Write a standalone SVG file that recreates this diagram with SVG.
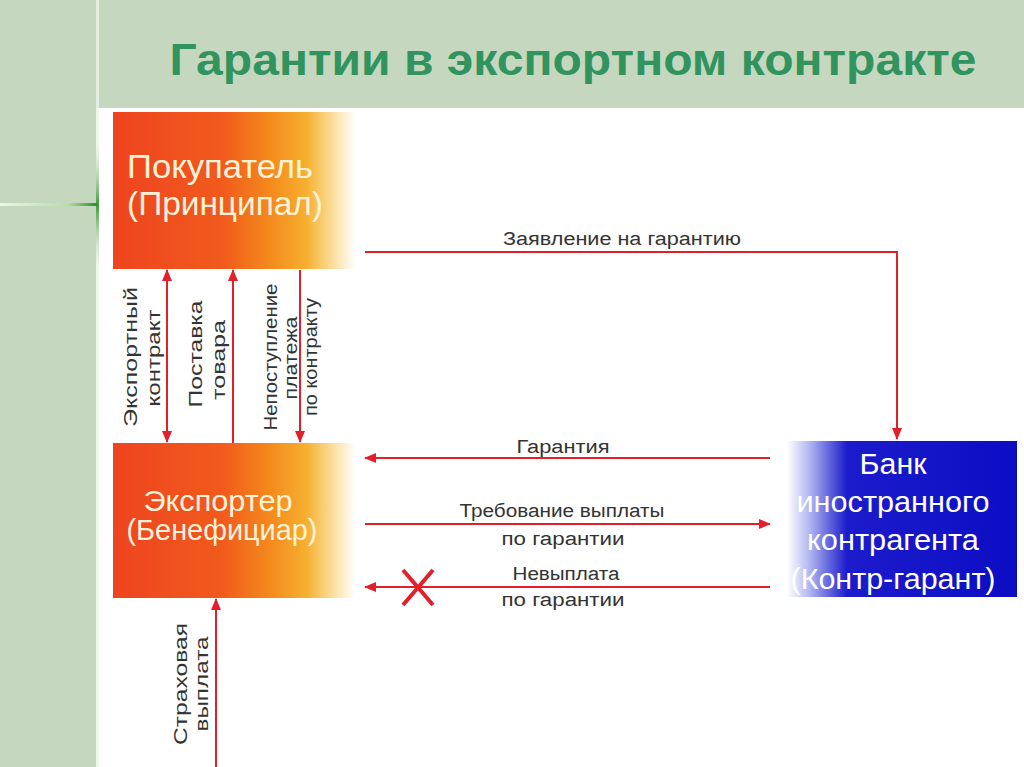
<svg xmlns="http://www.w3.org/2000/svg" width="1024" height="767" viewBox="0 0 1024 767">
<defs>
<linearGradient id="orange" x1="0" y1="0" x2="1" y2="0">
<stop offset="0" stop-color="#ee4420"/>
<stop offset="0.45" stop-color="#f15a1c"/>
<stop offset="0.65" stop-color="#f48a1c"/>
<stop offset="0.8" stop-color="#f6b030"/>
<stop offset="0.92" stop-color="#fbe3a8"/>
<stop offset="1" stop-color="#ffffff"/>
</linearGradient>
<linearGradient id="blue" x1="0" y1="0" x2="1" y2="0">
<stop offset="0" stop-color="#ffffff"/>
<stop offset="0.1" stop-color="#b0b4f0"/>
<stop offset="0.26" stop-color="#1c1ccc"/>
<stop offset="1" stop-color="#0c0cc4"/>
</linearGradient>
<linearGradient id="hline" x1="0" y1="0" x2="1" y2="0">
<stop offset="0" stop-color="#eaf6e4"/>
<stop offset="0.7" stop-color="#b6e0a4"/>
<stop offset="1" stop-color="#2d8c2d"/>
</linearGradient>
<linearGradient id="vline" x1="0" y1="0" x2="0" y2="1">
<stop offset="0" stop-color="#e6f2e2" stop-opacity="0"/>
<stop offset="0.5" stop-color="#3a9a32"/>
<stop offset="1" stop-color="#e6f2e2" stop-opacity="0"/>
</linearGradient>
<marker id="ah" viewBox="0 0 12 10" refX="11" refY="5" markerWidth="12" markerHeight="10" markerUnits="userSpaceOnUse" orient="auto-start-reverse">
<path d="M0,0 L12,5 L0,10 Z" fill="#e3202a"/>
</marker>
<style>
.conn{fill:none;stroke:#e3202a;stroke-width:2}
.lbl{font-family:"Liberation Sans",Arial,sans-serif;font-size:18px;fill:#333333;text-anchor:middle}
.vl{font-family:"Liberation Sans",Arial,sans-serif;font-size:19px;fill:#333333;text-anchor:middle}
.wt{font-family:"Liberation Sans",Arial,sans-serif;fill:#fff2d8;text-anchor:middle}
.bt{font-family:"Liberation Sans",Arial,sans-serif;font-size:29px;fill:#ffffff;text-anchor:middle}
</style>
</defs>
<rect x="0" y="0" width="1024" height="767" fill="#c5d8bf"/>
<rect x="99" y="108" width="925" height="659" fill="#ffffff"/>
<rect x="96" y="0" width="3" height="108" fill="#e4eee0"/>
<rect x="96" y="108" width="3" height="659" fill="#eef6ea"/>
<rect x="96" y="140" width="3" height="130" fill="url(#vline)"/>
<rect x="0" y="203" width="97" height="3" fill="url(#hline)"/>
<text x="573" y="75" font-family="'Liberation Sans',Arial,sans-serif" font-weight="bold" font-size="44" fill="#31945f" text-anchor="middle" textLength="807" lengthAdjust="spacingAndGlyphs">Гарантии в экспортном контракте</text>

<g id="buyer">
<rect x="113" y="112" width="242" height="157" fill="url(#orange)"/>
<text class="wt" x="220" y="178" font-size="33" textLength="186" lengthAdjust="spacingAndGlyphs">Покупатель</text>
<text class="wt" x="225" y="215" font-size="33" textLength="196" lengthAdjust="spacingAndGlyphs">(Принципал)</text>
</g>
<g id="exporter">
<rect x="113" y="443" width="242" height="155" fill="url(#orange)"/>
<text class="wt" x="218" y="511" font-size="29" textLength="149" lengthAdjust="spacingAndGlyphs">Экспортер</text>
<text class="wt" x="222" y="540" font-size="29" textLength="191" lengthAdjust="spacingAndGlyphs">(Бенефициар)</text>
</g>
<g id="bank">
<rect x="787" y="441" width="230" height="156" fill="url(#blue)"/>
<text class="bt" x="893" y="474" textLength="67" lengthAdjust="spacingAndGlyphs">Банк</text>
<text class="bt" x="893" y="512" textLength="193" lengthAdjust="spacingAndGlyphs">иностранного</text>
<text class="bt" x="893" y="550" textLength="172" lengthAdjust="spacingAndGlyphs">контрагента</text>
<text class="bt" x="893" y="589" textLength="205" lengthAdjust="spacingAndGlyphs">(Контр-гарант)</text>
</g>

<g id="connectors">
<path class="conn" d="M365,252 H897 V439" marker-end="url(#ah)"/>
<path class="conn" d="M770,458 H365" marker-end="url(#ah)"/>
<path class="conn" d="M365,524 H770" marker-end="url(#ah)"/>
<path class="conn" d="M770,587 H365" marker-end="url(#ah)"/>
<path d="M403,570 L433,605 M403,605 L433,570" stroke="#e3202a" stroke-width="4" fill="none"/>
<path class="conn" d="M167,270 V442" marker-start="url(#ah)" marker-end="url(#ah)"/>
<path class="conn" d="M233,443 V270" marker-end="url(#ah)"/>
<path class="conn" d="M300,270 V442" marker-end="url(#ah)"/>
<path class="conn" d="M216,767 V599" marker-end="url(#ah)"/>
</g>

<g id="labels">
<text class="lbl" x="622" y="245" textLength="238" lengthAdjust="spacingAndGlyphs">Заявление на гарантию</text>
<text class="lbl" x="563" y="453" textLength="93" lengthAdjust="spacingAndGlyphs">Гарантия</text>
<text class="lbl" x="562" y="517" textLength="205" lengthAdjust="spacingAndGlyphs">Требование выплаты</text>
<text class="lbl" x="563" y="545" textLength="123" lengthAdjust="spacingAndGlyphs">по гарантии</text>
<text class="lbl" x="566" y="580" textLength="107" lengthAdjust="spacingAndGlyphs">Невыплата</text>
<text class="lbl" x="563" y="606" textLength="123" lengthAdjust="spacingAndGlyphs">по гарантии</text>
<text class="vl" transform="translate(137,357) rotate(-90)" textLength="140" lengthAdjust="spacingAndGlyphs">Экспортный</text>
<text class="vl" transform="translate(160,358) rotate(-90)" textLength="97" lengthAdjust="spacingAndGlyphs">контракт</text>
<text class="vl" transform="translate(202,354) rotate(-90)" textLength="107" lengthAdjust="spacingAndGlyphs">Поставка</text>
<text class="vl" transform="translate(225,360) rotate(-90)" textLength="80" lengthAdjust="spacingAndGlyphs">товара</text>
<text class="vl" transform="translate(277,357) rotate(-90)" font-size="17" textLength="147" lengthAdjust="spacingAndGlyphs">Непоступление</text>
<text class="vl" transform="translate(297,358) rotate(-90)" font-size="17" textLength="83" lengthAdjust="spacingAndGlyphs">платежа</text>
<text class="vl" transform="translate(317,357) rotate(-90)" font-size="17" textLength="118" lengthAdjust="spacingAndGlyphs">по контракту</text>
<text class="vl" transform="translate(187,684) rotate(-90)" textLength="122" lengthAdjust="spacingAndGlyphs">Страховая</text>
<text class="vl" transform="translate(208,684) rotate(-90)" textLength="95" lengthAdjust="spacingAndGlyphs">выплата</text>
</g>
</svg>
